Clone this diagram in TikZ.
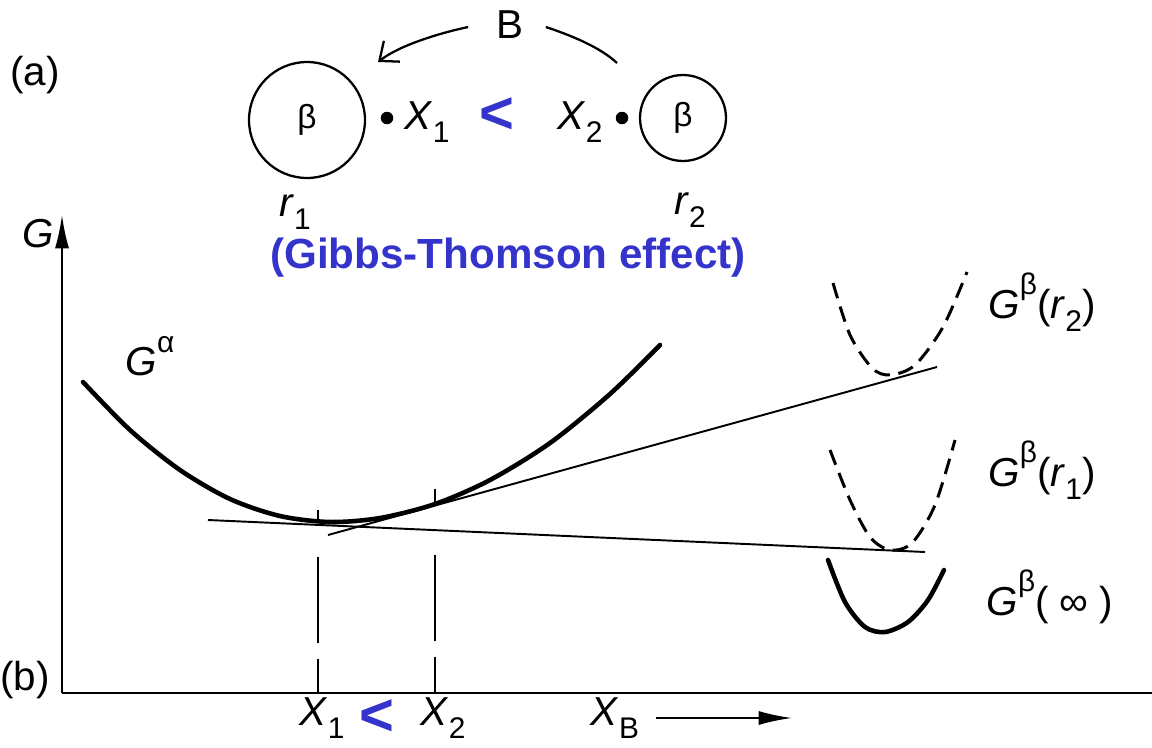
\documentclass[tikz,border=0pt]{standalone}
\usepackage{fontspec}
\setmainfont{Liberation Sans}
\usetikzlibrary{arrows.meta, calc}
\definecolor{cNote}{HTML}{3434CC}
\newcommand{\lsub}[1]{\raisebox{-0.32em}{\fontsize{17}{17}\selectfont #1}}
\newcommand{\lsup}[1]{\raisebox{0.58em}{\fontsize{17}{17}\selectfont #1}}
\tikzset{
  lbl/.style      ={font=\fontsize{23}{26}\selectfont, inner sep=1pt},
  phase/.style    ={font=\fontsize{19}{21}\selectfont, inner sep=0pt},
  particle/.style ={draw, circle, line width=1.3pt, inner sep=0pt},
  solute/.style   ={fill, circle, inner sep=0pt, minimum size=0.25cm},
  note/.style     ={font=\fontsize{24}{28}\selectfont\bfseries, text=cNote,
                    inner sep=1pt},
  axis/.style     ={line width=1.2pt},
  gcurve/.style   ={line width=2.6pt, line cap=round},
  dcurve/.style   ={line width=1.7pt, dash pattern=on 9pt off 5pt},
  tangent/.style  ={line width=1.1pt},
  guide/.style    ={line width=1.1pt, dash pattern=on 49pt off 9pt},
  flux/.style     ={line width=1.3pt},
  fatarrow/.style ={axis, -{Latex[length=19pt, width=8pt]}},
}

\begin{document}
\begin{tikzpicture}[x=0.02cm, y=-0.02cm]
  \useasboundingbox[fill=white] (0,0) rectangle (1152,747);

  % ============================================================
  % (a) two particles of different radius
  % ============================================================
  \node[lbl] (tagA) at (35,75) {(a)};

  \node[particle, minimum size=2.32cm] (pbig)   at (307,120) {};
  \node[particle, minimum size=1.72cm] (psmall) at (683,118) {};
  \node[phase] at (pbig)   {β};
  \node[phase] at (psmall) {β};

  \node[solute] (dot1) at (387,118) {};
  \node[solute] (dot2) at (622,118) {};
  \node[lbl] (xa1) at (427,122) {\textit{X}\lsub{1}};
  \node[lbl] (xa2) at (580,122) {\textit{X}\lsub{2}};
  \node[note, font=\fontsize{34}{36}\selectfont\bfseries] (ltA) at (497,116) {<};

  \node[lbl] (rad1) at (295,212) {\textit{r}\lsub{1}};
  \node[lbl] (rad2) at (690,210) {\textit{r}\lsub{2}};

  \node[lbl, inner sep=0pt] (Bsym) at (510,25) {B};
  \coordinate (bhead) at (378,62);
  \coordinate (btail) at (617,63);

  % solute flux small -> big particle
  \draw[flux, -{Straight Barb[length=9pt, width=15pt]}]
       ($(Bsym.west)+(-28,2)$) .. controls (440,33) and (400,45) .. (bhead);
  \draw[flux] ($(Bsym.east)+(22,2)$) .. controls (570,35) and (600,47) .. (btail);

  \node[note] (gibbs) at (508,258) {(Gibbs-Thomson effect)};

  % ============================================================
  % (b) free energy curves
  % ============================================================
  \node[lbl] (tagB) at (25,680) {(b)};
  \coordinate (orig) at (62,693);
  \coordinate (ytop) at (62,215);
  \coordinate (xend) at (1152,693);

  \draw[fatarrow] (orig) -- (ytop);
  \draw[axis] (orig) -- (xend);
  \node[lbl] (Gax) at (38,234) {\textit{G}};

  % alpha curve
  \draw[gcurve] plot[smooth] coordinates {
    (83,382) (130,430) (180,470) (230,499) (280,516) (330,522)
    (380,518) (435,504) (490,480) (550,443) (610,394) (660,345)};
  \node[lbl] (Galpha) at (150,356) {\textit{G}\lsup{α}};

  % common tangents
  \draw[tangent] (208,520) -- (925,552);
  \draw[tangent] (328,535) -- (937,367);
  \draw[tangent] (318,510) -- (318,523);
  \draw[tangent] (435,489) -- (435,504);

  % beta curves
  \draw[dcurve] plot[smooth] coordinates {
    (833,283) (850,335) (872,368) (890,375) (915,365) (943,327) (967,272)};
  \draw[dcurve] plot[smooth] coordinates {
    (830,450) (850,500) (870,537) (890,550) (912,543) (935,505) (955,440)};
  \draw[gcurve] plot[smooth] coordinates {
    (828,560) (845,602) (865,627) (885,632) (908,622) (928,600) (944,570)};

  \node[lbl] (Gbr2)  at (1042,302) {\textit{G}\lsup{β}(\textit{r}\lsub{2})};
  \node[lbl] (Gbr1)  at (1042,470) {\textit{G}\lsup{β}(\textit{r}\lsub{1})};
  \node[lbl] (Gbinf) at (1050,597) {\textit{G}\lsup{β}( ∞ )};

  % equilibrium compositions
  \coordinate (g1) at (318,557);
  \coordinate (g2) at (435,555);
  \draw[guide] (g1) -- (g1 |- orig);
  \draw[guide] (g2) -- (g2 |- orig);

  \node[lbl] (xb1) at (322,718) {\textit{X}\lsub{1}};
  \node[lbl] (xb2) at (443,718) {\textit{X}\lsub{2}};
  \node[note, font=\fontsize{34}{36}\selectfont\bfseries] (ltB) at (377,718) {<};
  \node[lbl] (XB) at (615,718) {\textit{X}\lsub{B}};
  \coordinate (xbarr) at (792,718);
  \draw[fatarrow] ($(XB.east)+(15,0)$) -- (xbarr);

\end{tikzpicture}
\end{document}
